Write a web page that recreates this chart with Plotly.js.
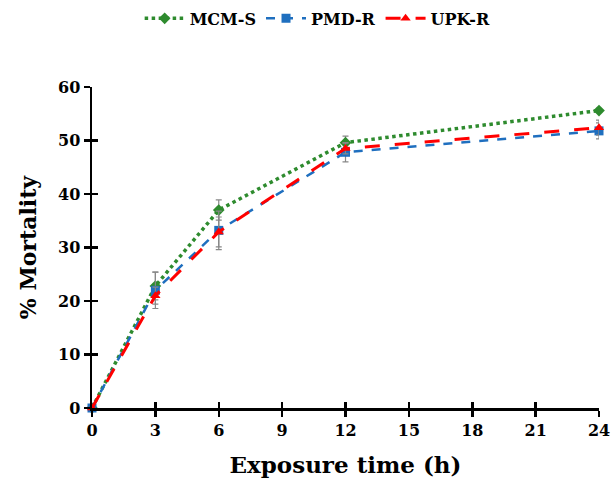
<!DOCTYPE html>
<html><head><meta charset="utf-8">
<script src="https://cdn.plot.ly/plotly-3.0.1.min.js"></script>
<style>body{margin:0;background:#fff}#c{width:611px;height:484px}</style>
</head><body><div id="c"></div>
<script>
const hours = [0, 3, 6, 12, 24];
const mcmS = [0, 22.8, 37.0, 49.6, 55.6];
const mcmSErr = [0, 2.6, 1.9, 1.2, 0.4];
const pmdR = [0, 22.0, 33.2, 47.8, 51.8];
const pmdRErr = [0, 3.4, 3.6, 1.8, 1.5];
const upkR = [0, 21.0, 32.9, 48.5, 52.4];
const upkRErr = [0, 1.6, 2.8, 1.0, 1.4];
const xTicks = [0, 3, 6, 9, 12, 15, 18, 21, 24];
const yTicks = [0, 10, 20, 30, 40, 50, 60];

const F = "DejaVu Serif, serif";
function tr(name, y, err, color, dash, sym, w) {
  return {x: hours, y: y, name: name, type: 'scatter', mode: 'lines+markers',
    line: {color: color, dash: dash, width: w},
    marker: {symbol: sym, size: 9, color: color},
    error_y: {type: 'data', array: err, visible: true, color: '#888', thickness: 1.2, width: 3},
    cliponaxis: false};
}
const data = [
  tr('MCM-S', mcmS, mcmSErr, '#2e8b2e', 'dot', 'diamond', 3.5),
  tr('PMD-R', pmdR, pmdRErr, '#1f6fbf', 'dash', 'square', 2.5),
  tr('UPK-R', upkR, upkRErr, '#ff0000', 'longdash', 'triangle-up', 3)
];
data.push({x: [0], y: [0], xaxis: 'x2', yaxis: 'y2', mode: 'markers', marker: {opacity: 0}, showlegend: false, hoverinfo: 'skip'});

const layout = {
  width: 611, height: 484,
  margin: {l: 92, r: 12, t: 87, b: 76},
  paper_bgcolor: '#fff', plot_bgcolor: '#fff',
  font: {family: F, color: '#000', size: 16},
  showlegend: true,
  legend: {orientation: 'h', x: 0.094, xanchor: 'left', yref: 'container', y: 0.997, yanchor: 'top',
    font: {family: F, size: 16, weight: 'bold'}, traceorder: 'normal', itemwidth: 40},
  xaxis: {range: [0, 24], tickvals: xTicks, ticktext: xTicks.map(String), showgrid: false, zeroline: false,
    showline: true, linecolor: '#000', linewidth: 2.5, ticks: 'outside', ticklen: 6, tickwidth: 2.5, tickcolor: '#000',
    tickfont: {family: F, size: 16, weight: 'bold'}, ticklabeloverflow: 'allow',
    title: {text: 'Exposure time (h)', font: {family: F, size: 23, weight: 'bold'}, standoff: 18}},
  yaxis: {range: [0, 60], tickvals: yTicks, ticktext: yTicks.map(String), showgrid: false, zeroline: false,
    showline: true, linecolor: '#000', linewidth: 2.5, ticks: 'outside', ticklen: 6, tickwidth: 2.5, tickcolor: '#000',
    tickfont: {family: F, size: 16, weight: 'bold'},
    title: {text: '% Mortality', font: {family: F, size: 22, weight: 'bold'}, standoff: 16}},
  xaxis2: {overlaying: 'x', range: [0, 24], tickvals: xTicks, showticklabels: false, showgrid: false, zeroline: false,
    ticks: 'inside', ticklen: 6, tickwidth: 2.5, tickcolor: '#000', side: 'bottom'},
  yaxis2: {overlaying: 'y', range: [0, 60], tickvals: yTicks, showticklabels: false, showgrid: false, zeroline: false,
    ticks: 'inside', ticklen: 6, tickwidth: 2.5, tickcolor: '#000', side: 'left'}
};
Plotly.newPlot('c', data, layout, {displayModeBar: false, staticPlot: true});
</script></body></html>
